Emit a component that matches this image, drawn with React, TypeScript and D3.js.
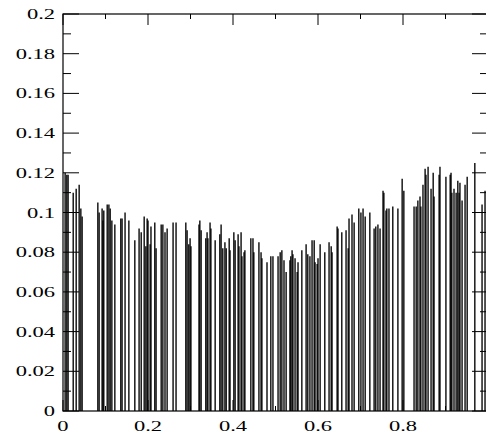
import React from 'react'
import * as d3 from 'd3'

// bin positions (fraction) and their frequency
const binX = [
  0.005, 0.009, 0.012, 0.024, 0.031, 0.038, 0.042, 0.045,
  0.082, 0.085, 0.092, 0.094, 0.096, 0.104, 0.108, 0.111, 0.115, 0.122,
  0.136, 0.139, 0.146, 0.155, 0.169, 0.179, 0.184, 0.191, 0.195, 0.198,
  0.200, 0.205, 0.207, 0.216, 0.219, 0.231, 0.235, 0.240, 0.245,
  0.259, 0.266, 0.289, 0.292, 0.296, 0.299, 0.301, 0.320, 0.322, 0.325,
  0.336, 0.339, 0.341, 0.346, 0.348, 0.358, 0.369, 0.372, 0.376, 0.381,
  0.384, 0.391, 0.393, 0.402, 0.405, 0.412, 0.414, 0.419, 0.421, 0.426,
  0.428, 0.442, 0.447, 0.449, 0.461, 0.466, 0.468, 0.480, 0.489, 0.494,
  0.506, 0.511, 0.515, 0.520, 0.525, 0.534, 0.536, 0.539, 0.541, 0.546,
  0.551, 0.553, 0.562, 0.572, 0.576, 0.581, 0.586, 0.591, 0.593, 0.598,
  0.600, 0.605, 0.616, 0.626, 0.631, 0.633, 0.645, 0.647, 0.656, 0.666,
  0.671, 0.673, 0.680, 0.685, 0.696, 0.701, 0.706, 0.711, 0.722, 0.732,
  0.736, 0.741, 0.746, 0.753,
  0.755, 0.760, 0.762, 0.767, 0.776, 0.788, 0.798, 0.802, 0.826, 0.831,
  0.835, 0.840, 0.842, 0.847, 0.852, 0.854, 0.859, 0.866, 0.871, 0.873,
  0.885, 0.887, 0.901, 0.911, 0.913, 0.915, 0.920, 0.925, 0.929, 0.932,
  0.934, 0.939, 0.946, 0.951, 0.969, 0.986, 0.993,
]

const binH = [
  0.120, 0.119, 0.119, 0.110, 0.112, 0.114, 0.102, 0.098,
  0.105, 0.100, 0.102, 0.096, 0.101, 0.104, 0.104, 0.102, 0.096, 0.094,
  0.097, 0.097, 0.100, 0.096, 0.086, 0.092, 0.090, 0.098, 0.083, 0.097,
  0.096, 0.084, 0.093, 0.095, 0.082, 0.094, 0.094, 0.090, 0.092,
  0.095, 0.095, 0.095, 0.091, 0.084, 0.087, 0.083, 0.094, 0.096, 0.091,
  0.087, 0.090, 0.087, 0.095, 0.092, 0.086, 0.089, 0.094, 0.082, 0.085,
  0.082, 0.087, 0.081, 0.090, 0.086, 0.089, 0.083, 0.090, 0.078, 0.080,
  0.081, 0.087, 0.087, 0.080, 0.085, 0.080, 0.077, 0.075, 0.078, 0.078,
  0.078, 0.080, 0.081, 0.076, 0.070, 0.076, 0.078, 0.081, 0.079, 0.077,
  0.070, 0.075, 0.081, 0.084, 0.079, 0.078, 0.086, 0.086, 0.075, 0.074,
  0.077, 0.084, 0.080, 0.085, 0.083, 0.080, 0.093, 0.092, 0.090, 0.091,
  0.082, 0.097, 0.099, 0.095, 0.102, 0.100, 0.102, 0.098, 0.100, 0.092,
  0.093, 0.094, 0.092, 0.111,
  0.110, 0.101, 0.102, 0.102, 0.103, 0.102, 0.117, 0.111, 0.103, 0.103,
  0.106, 0.108, 0.103, 0.114, 0.122, 0.119, 0.123, 0.112, 0.120, 0.108,
  0.119, 0.123, 0.118, 0.119, 0.120, 0.110, 0.112, 0.110, 0.116, 0.110,
  0.115, 0.106, 0.114, 0.118, 0.125, 0.104, 0.111,
]

const xLabels = [0, 0.2, 0.4, 0.6, 0.8]
const yLabels = [0, 0.02, 0.04, 0.06, 0.08, 0.1, 0.12, 0.14, 0.16, 0.18, 0.2]

const W = 486
const H = 435
const left = 63
const right = 488
const top = 14
const bottom = 411

export default function App() {
  let x = d3.scaleLinear().domain([0, 1]).range([left, right])
  let y = d3.scaleLinear().domain([0, 0.2]).range([bottom, top])

  let xMinor = d3.range(0, 10).map(i => i / 10)
  let yMinor = d3.range(0, 21).map(i => i / 100)
  let isMajorY = (v: number) => Math.round(v * 100) % 2 === 0
  let isMajorX = (v: number) => Math.round(v * 10) % 2 === 0
  let fmt = (v: number) => (v === 0 ? '0' : String(+v.toFixed(2)))

  let font = { fontFamily: '"Liberation Serif", serif', fontSize: 15 }

  return (
    <svg
      width={W}
      height={H}
      style={{ position: 'absolute', left: 0, top: 0, background: '#fff' }}
    >
      <g>
        {binX.map((bx, i) => (
          <line
            key={i}
            x1={x(bx)}
            x2={x(bx)}
            y1={y(0)}
            y2={y(binH[i])}
            stroke="#000"
            strokeWidth={1.35}
          />
        ))}
      </g>

      {/* y ticks, both sides */}
      {yMinor.map(v => {
        let len = isMajorY(v) ? 16 : 8
        return (
          <g key={'yt' + v}>
            <line x1={left} x2={left + len} y1={y(v)} y2={y(v)} stroke="#000" />
            <line x1={right} x2={right - len} y1={y(v)} y2={y(v)} stroke="#000" />
          </g>
        )
      })}

      {/* x ticks, top and bottom */}
      {xMinor.map(v => {
        let len = isMajorX(v) ? 11 : 5
        return (
          <g key={'xt' + v}>
            <line x1={x(v)} x2={x(v)} y1={top} y2={top + len} stroke="#000" />
            <line x1={x(v)} x2={x(v)} y1={bottom} y2={bottom - len} stroke="#000" />
          </g>
        )
      })}

      <rect
        x={left}
        y={top}
        width={right - left}
        height={bottom - top}
        fill="none"
        stroke="#000"
        strokeWidth={1.2}
      />

      {yLabels.map(v => (
        <text
          key={'yl' + v}
          transform={`translate(55,${y(v)}) scale(1.5,1)`}
          textAnchor="end"
          dominantBaseline="central"
          style={font}
        >
          {fmt(v)}
        </text>
      ))}

      {xLabels.map(v => (
        <text
          key={'xl' + v}
          transform={`translate(${x(v)},431) scale(1.5,1)`}
          textAnchor="middle"
          style={font}
        >
          {fmt(v)}
        </text>
      ))}
    </svg>
  )
}
